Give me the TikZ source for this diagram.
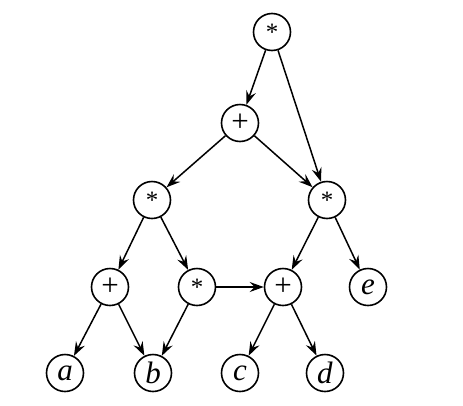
\documentclass[tikz,border=0pt]{standalone}
\usepackage{fontspec}
\setmainfont{Liberation Serif}
\usetikzlibrary{arrows.meta}

\newcommand{\opmul}{{\fontsize{25}{25}\selectfont\raisebox{-0.3em}{*}}}

\begin{document}
\begin{tikzpicture}[x=1pt,y=-1pt,
    vertex/.style={circle, draw, line width=1.6pt, minimum size=37pt, inner sep=0pt,
                   font=\fontsize{31}{31}\selectfont},
    edge/.style={line width=1.5pt, -{Stealth[length=14pt,width=10pt,inset=5pt]}}]
    \useasboundingbox (0,0) rectangle (463,405);

    % Draw the nodes
    \node[vertex] (top)   at (272,32)  {\opmul};
    \node[vertex] (plus)  at (240,123) {+};
    \node[vertex] (mulL)  at (152,200) {\opmul};
    \node[vertex] (mulR)  at (327,200) {\opmul};
    \node[vertex] (plusL) at (110,287) {+};
    \node[vertex] (mulM)  at (197,287) {\opmul};
    \node[vertex] (plusM) at (283,287) {+};
    \node[vertex] (e)     at (368,287) {\textit{e}};
    \node[vertex] (a)     at (65,373)  {\textit{a}};
    \node[vertex] (b)     at (153,373) {\textit{b}};
    \node[vertex] (c)     at (240,373) {\textit{c}};
    \node[vertex] (d)     at (325,373) {\textit{d}};

    % Draw the edges
    \draw[edge] (top) -- (plus);
    \draw[edge] (top) -- (mulR);
    \draw[edge] (plus) -- (mulL);
    \draw[edge] (plus) -- (mulR);
    \draw[edge] (mulL) -- (plusL);
    \draw[edge] (mulL) -- (mulM);
    \draw[edge] (mulR) -- (plusM);
    \draw[edge] (mulR) -- (e);
    \draw[edge] (plusL) -- (a);
    \draw[edge] (plusL) -- (b);
    \draw[edge] (mulM) -- (b);
    \draw[edge] (mulM) -- (plusM);
    \draw[edge] (plusM) -- (c);
    \draw[edge] (plusM) -- (d);

\end{tikzpicture}
\end{document}
